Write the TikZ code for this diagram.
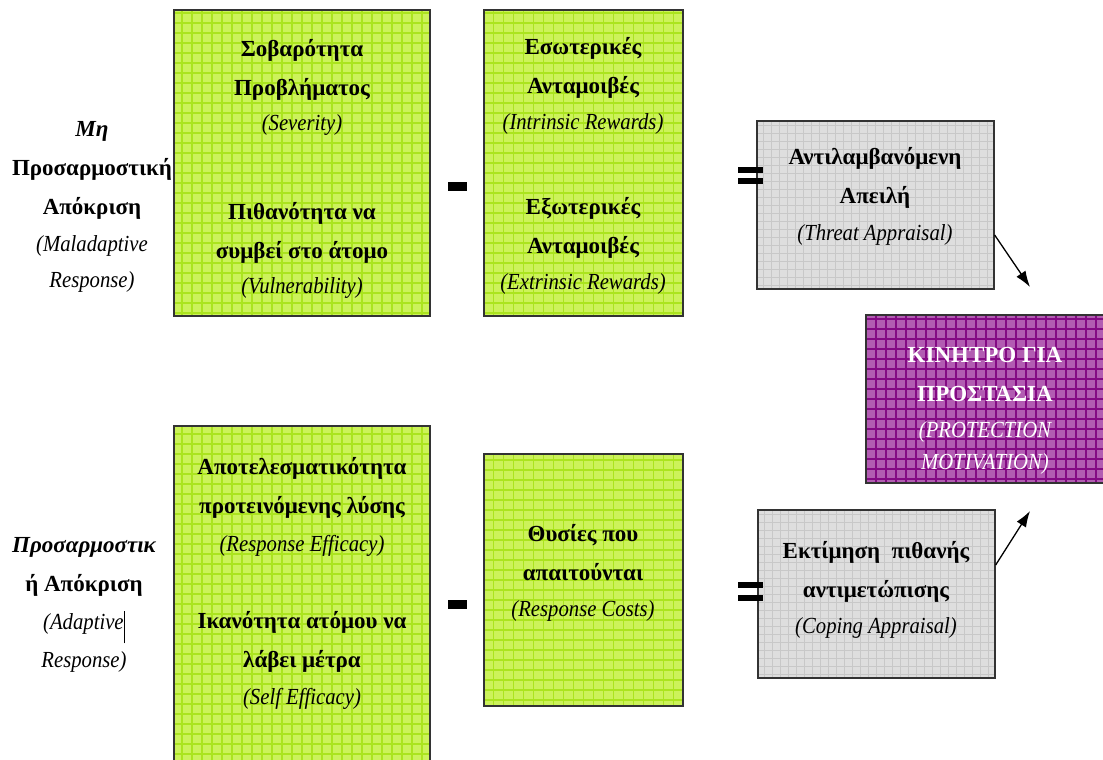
\documentclass[tikz,border=0pt]{standalone}
\usepackage{fontspec}
\setmainfont{Liberation Serif}
\newfontfamily\engit[FakeStretch=0.9,UprightFont={* Italic}]{Liberation Serif}
\usetikzlibrary{arrows.meta}
\newcommand{\eng}[1]{{\mdseries\engit #1}}
\definecolor{limefill}{HTML}{CCF25A}
\definecolor{limegrid}{HTML}{ABE41E}
\definecolor{greyfill}{HTML}{DEDEDE}
\definecolor{greygrid}{HTML}{C8C8C8}
\definecolor{plumfill}{HTML}{B25CB2}
\definecolor{plumgrid}{HTML}{840A84}
\tikzset{
  greenbox/.style={draw=black!80, line width=1.3pt, fill=limefill, inner sep=0pt,
    path picture={\draw[limegrid, line width=1.3pt] (path picture bounding box.south west) grid[step=10pt] (path picture bounding box.north east);}},
  greybox/.style={draw=black!80, line width=1.3pt, fill=greyfill, inner sep=0pt,
    path picture={\draw[greygrid, line width=0.8pt] (path picture bounding box.south west) grid[step=8pt] (path picture bounding box.north east);}},
  plumbox/.style={draw=black!80, line width=1.3pt, fill=plumfill, inner sep=0pt,
    path picture={\draw[plumgrid, line width=1.5pt] (path picture bounding box.south west) grid[step=10pt] (path picture bounding box.north east);}},
  txt/.style={font=\fontsize{23}{39}\selectfont\bfseries, align=center, anchor=north, inner sep=0pt},
  minusbar/.style={fill=black, inner sep=0pt, minimum width=19pt, minimum height=9pt},
  eqbar/.style={fill=black, inner sep=0pt, minimum width=25pt, minimum height=6pt}
}
\begin{document}
\begin{tikzpicture}[x=1pt, y=-1pt, >={Latex[length=16pt,width=11pt]}]
\useasboundingbox[fill=white] (0,0) rectangle (1103,760);
% boxes
\node[greenbox, minimum width=256pt, minimum height=306pt] (sev) at (302,163) {};
\node[greenbox, minimum width=199pt, minimum height=306pt] (rew) at (583.5,163) {};
\node[greybox, minimum width=237pt, minimum height=168pt] (threat) at (875.5,205) {};
\node[plumbox, minimum width=240pt, minimum height=168pt] (motiv) at (986,399) {};
\node[greenbox, minimum width=256pt, minimum height=336pt] (eff) at (302,594) {};
\node[greenbox, minimum width=199pt, minimum height=252pt] (cost) at (583.5,580) {};
\node[greybox, minimum width=237pt, minimum height=168pt] (coping) at (876.5,594) {};
% side labels
\node[txt] (mal) at (92,121) {\itshape Μη\\Προσαρμοστική\\Απόκριση\\[-2pt]\eng{(Maladaptive}\\[-3pt]\eng{Response)}};
\node[txt] (adap) at (84,537) {\itshape Προσαρμοστικ\\ή Απόκριση\\[-1pt]\eng{(Adaptive\rule[-14pt]{1.2pt}{32pt}}\\[-1pt]\eng{Response)}};
% texts in boxes
\node[txt] (sevtxt) at (302,39) {Σοβαρότητα\\Προβλήματος\\[-4pt]\eng{(Severity)}};
\node[txt] (vultxt) at (302,202) {Πιθανότητα να\\συμβεί στο άτομο\\[-4pt]\eng{(Vulnerability)}};
\node[txt] (inttxt) at (583,37) {Εσωτερικές\\Ανταμοιβές\\[-3pt]\eng{(Intrinsic Rewards)}};
\node[txt] (exttxt) at (583,197) {Εξωτερικές\\Ανταμοιβές\\[-3pt]\eng{(Extrinsic Rewards)}};
\node[txt] (thrtxt) at (875,147) {Αντιλαμβανόμενη\\Απειλή\\[-2pt]\eng{(Threat Appraisal)}};
\node[txt, text=white] (mottxt) at (985,347) {ΚΙΝΗΤΡΟ ΓΙΑ\\ΠΡΟΣΤΑΣΙΑ\\[-3pt]\eng{(PROTECTION}\\[-7pt]\eng{MOTIVATION)}};
\node[txt] (rsptxt) at (302,457) {Αποτελεσματικότητα\\προτεινόμενης λύσης\\[-1pt]\eng{(Response Efficacy)}};
\node[txt] (selftxt) at (302,611) {Ικανότητα ατόμου να\\λάβει μέτρα\\[-2pt]\eng{(Self Efficacy)}};
\node[txt] (costtxt) at (583,524) {Θυσίες που\\απαιτούνται\\[-3pt]\eng{(Response Costs)}};
\node[txt] (coptxt) at (876,541) {Εκτίμηση\ \ πιθανής\\αντιμετώπισης\\[-3pt]\eng{(Coping Appraisal)}};
% operators
\node[minusbar] (minusT) at (457.5,186.5) {};
\node[minusbar] (minusB) at (457.5,604) {};
\node[eqbar] (eqT1) at (750.5,170) {};
\node[eqbar] (eqT2) at (750.5,181) {};
\node[eqbar] (eqB1) at (750,585) {};
\node[eqbar] (eqB2) at (750,598) {};
% arrows
\coordinate (tipT) at (1030,287);
\coordinate (tipB) at (1030,511);
\draw[->, line width=1.3pt] ([yshift=-30pt]threat.east) -- (tipT);
\draw[->, line width=1.3pt] ([yshift=29pt]coping.east) -- (tipB);
\end{tikzpicture}
\end{document}
